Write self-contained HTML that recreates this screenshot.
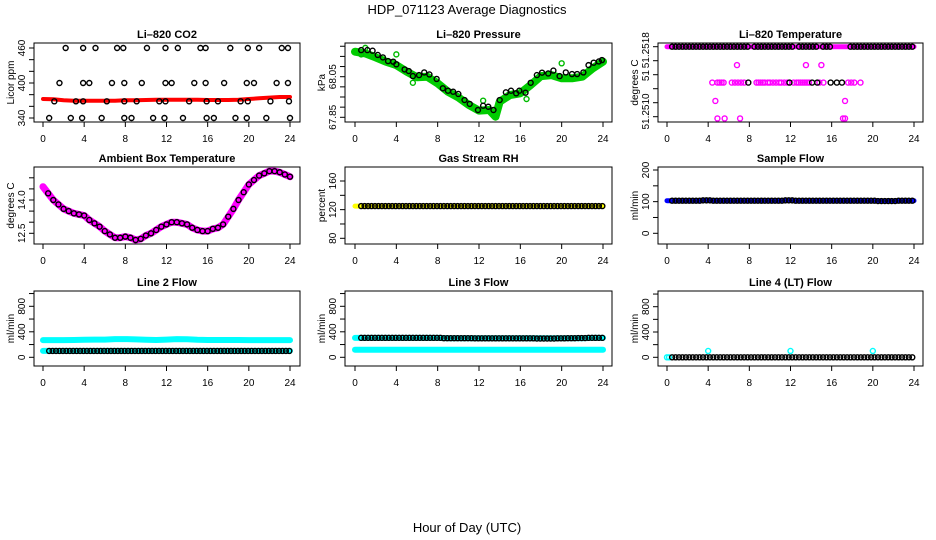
<!DOCTYPE html>
<html><head><meta charset="utf-8">
<style>
html,body{margin:0;padding:0;background:#fff;}
svg{display:block;font-family:"Liberation Sans",Arial,sans-serif;}
</style></head>
<body>
<svg id="chart" width="936" height="540" viewBox="0 0 936 540" xmlns="http://www.w3.org/2000/svg">
<text x="467" y="14" font-size="13" text-anchor="middle">HDP_071123  Average Diagnostics</text>
<text x="467" y="532" font-size="13" text-anchor="middle">Hour of Day (UTC)</text>
</svg>
<script>
// ---------- data ----------
const hourTicks = [0,4,8,12,16,20,24];
const co2RedHours = [0,1,2,3,4,5,6,7,8,9,10,11,12,13,14,15,16,17,18,19,20,21,22,23,24];
const co2RedPpm = [372.6,372,370.3,369.7,369.7,369.7,369.7,369.7,370.3,370.3,370.9,371.4,371.4,371.4,371.4,371.4,370.9,370.9,370.9,371.4,372.6,373.7,374.9,376,376];
const co2BlackHours = [2.2,3.9,5.1,7.2,7.8,10.1,11.9,13.1,15.3,15.8,18.2,19.9,21.0,23.2,23.8, 1.6,3.9,4.5,6.7,7.9,9.6,11.9,12.5,14.7,15.8,17.6,19.8,20.5,22.7,23.8, 1.1,3.2,3.9,6.2,7.9,9.1,11.3,11.9,14.2,15.9,17.0,19.2,19.9,22.1,23.9, 0.6,2.7,3.8,5.7,7.9,8.6,10.7,11.8,13.6,15.9,16.6,18.7,19.8,21.7,24.0];
const co2BlackPpm = [460,460,460,460,460,460,460,460,460,460,460,460,460,460,460, 400,400,400,400,400,400,400,400,400,400,400,400,400,400,400, 368.6,368.6,368.6,368.6,368.6,368.6,368.6,368.6,368.6,368.6,368.6,368.6,368.6,368.6,368.6, 340,340,340,340,340,340,340,340,340,340,340,340,340,340,340];
const presGreenHours = [0,1,2,3,4,5,6,7,8,9,10,11,12,13,13.6,14,15,16,17,18,19,20,21,22,23,24];
const presGreenKpa = [68.173,68.165,68.145,68.124,68.107,68.075,68.047,68.050,68.017,67.976,67.948,67.911,67.883,67.886,67.853,67.927,67.960,67.968,68.009,68.053,68.058,68.042,68.042,68.050,68.091,68.124];
const presOutlierHours = [4.0,20.0,1.0,12.4,16.6,5.6,0.6];
const presOutlierKpa = [68.160,68.116,68.192,67.932,67.940,68.020,68.160];
const presBlackHours = [0.6,1.2,1.7,2.2,2.7,3.2,3.7,4.0,4.8,5.2,5.6,6.2,6.7,7.2,7.9,8.5,9,9.5,10,10.6,11.1,11.9,12.4,12.9,13.4,14.0,14.6,15.1,15.6,15.9,16.5,17,17.6,18.1,18.7,19.2,19.8,20.4,21,21.5,22.1,22.6,23.1,23.6,23.9];
const presBlackKpa = [68.181,68.181,68.178,68.157,68.145,68.127,68.124,68.111,68.086,68.078,68.053,68.058,68.071,68.061,68.039,67.993,67.981,67.976,67.965,67.935,67.916,67.886,67.907,67.902,67.886,67.935,67.973,67.981,67.968,67.981,67.971,68.020,68.058,68.070,68.066,68.080,68.053,68.071,68.063,68.063,68.071,68.107,68.119,68.125,68.132];
const tempTopHours = [0,24];
const tempTopC = [51.2518,51.2518];
const tempMagHours = [4.4,4.9,5.1,5.3,5.5,6.3,6.6,6.9,7.2,7.5,8.7,8.9,9.1,9.3,9.5,9.8,10.0,10.3,10.6,10.9,11.1,11.4,11.7,12.3,12.6,12.8,13.0,13.2,13.4,13.6,13.8,14.8,15.2,17.6,17.9,18.2,18.8, 6.8,13.5,15.0, 4.7,17.3, 4.9,5.6,7.1,17.1,17.3];
const tempMagC = [51.25139,51.25139,51.25139,51.25139,51.25139,51.25139,51.25139,51.25139,51.25139,51.25139,51.25139,51.25139,51.25139,51.25139,51.25139,51.25139,51.25139,51.25139,51.25139,51.25139,51.25139,51.25139,51.25139,51.25139,51.25139,51.25139,51.25139,51.25139,51.25139,51.25139,51.25139,51.25139,51.25139,51.25139,51.25139,51.25139,51.25139, 51.25159,51.25159,51.25159, 51.25118,51.25118, 51.25098,51.25098,51.25098,51.25098,51.25098];
const tempBlackMidHours = [7.9,11.9,14.1,14.6,15.9,16.5,17.0];
const tempBlackMidC = [51.25139,51.25139,51.25139,51.25139,51.25139,51.25139,51.25139];
const tempBlackTopGaps = [[8.1,8.5],[12.2,12.6],[14.5,15.0],[16.0,17.8]];
const ambHours = [0,0.5,1,1.5,2,2.5,3,3.5,4,4.5,5,5.5,6,6.5,7,7.5,8,8.5,9,9.5,10,10.5,11,11.5,12,12.5,13,13.5,14,14.5,15,15.5,16,16.5,17,17.5,18,18.5,19,19.5,20,20.5,21,21.5,22,22.5,23,23.5,24];
const ambC = [14.6,14.3,14.0,13.8,13.6,13.5,13.4,13.35,13.3,13.1,12.95,12.8,12.6,12.45,12.3,12.3,12.35,12.3,12.2,12.25,12.4,12.5,12.65,12.8,12.9,13.0,13.0,12.95,12.9,12.75,12.65,12.6,12.6,12.7,12.75,12.9,13.25,13.6,14.0,14.35,14.7,14.9,15.1,15.2,15.3,15.3,15.25,15.15,15.05];
const rhHourly = [125,125,125,125,125,125,125,125,125,125,125,125,125,125,125,125,125,125,125,125,125,125,125,125,125];
const sampleHourly = [103,103,103,103,104,103,103,103,103,103,103,103,104,103,103,103,103,103,103,103,103,102,102,103,103];
const line2CyanHi = [270,270,270,272,275,278,278,285,285,280,275,272,278,285,283,275,272,272,272,272,270,270,270,270,270];
const line2CyanLo = [100,100,100,100,100,100,100,100,100,100,100,100,100,100,100,100,100,100,100,100,100,100,100,100,100];
const line2Black = [100,100,100,100,100,100,100,100,100,100,100,100,100,100,100,100,100,100,100,100,100,100,100,100,100];
const line3CyanHi = [305,305,305,305,305,305,305,305,305,300,300,300,300,300,300,300,300,300,300,300,300,300,300,305,305];
const line3CyanLo = [120,120,120,120,120,120,120,120,120,120,120,120,120,120,120,120,120,120,120,120,120,120,120,120,120];
const line3Black = [305,305,305,305,305,305,305,305,305,300,300,300,298,298,298,298,298,298,295,295,298,300,302,305,305];
const line4Black = [0,0,0,0,0,0,0,0,0,0,0,0,0,0,0,0,0,0,0,0,0,0,0,0,0];
const line4CyanHours = [0,0.2,4,12,20];
const line4CyanVals = [0,0,100,100,100];

// ---------- drawing ----------
const NS = "http://www.w3.org/2000/svg";
const svg = document.getElementById('chart');
function mk(tag, attrs, parent){ const e=document.createElementNS(NS,tag); for(const k in attrs) e.setAttribute(k,attrs[k]); (parent||svg).appendChild(e); return e; }
const cols = [{l:34,r:300,x0:43,x24:290},{l:345,r:612,x0:355,x24:603},{l:658,r:923,x0:667,x24:914}];
const rows = [{t:43,b:122},{t:167,b:244},{t:291,b:366}];
function panel(ci,ri,title,ylab,yv0,yp0,yv1,yp1,yticks,ylabels,name){
  const c=cols[ci], r=rows[ri];
  const g=mk('g',{});
  
  
  const xs=t=>c.x0+(c.x24-c.x0)*t/24;
  const ys=v=>yp0+(yp1-yp0)*(v-yv0)/(yv1-yv0);
  const tt=mk('text',{x:(c.l+c.r)/2,y:r.t-5,'font-size':11,'font-weight':'bold','text-anchor':'middle'},g);
  tt.textContent=title;
  
  
  const box=mk('rect',{x:c.l,y:r.t,width:c.r-c.l,height:r.b-r.t,fill:'none',stroke:'#000','stroke-width':1},g);
  
  
  const xa=mk('g',{},g);
  
  
  hourTicks.forEach(h=>{ const x=xs(h); mk('line',{x1:x,x2:x,y1:r.b,y2:r.b+5,stroke:'#000'},xa);
    const lt=mk('text',{x:x,y:r.b+20,'font-size':10,'text-anchor':'middle'},xa); lt.textContent=h; });
  const ya=mk('g',{},g);
  
  
  yticks.forEach(v=>{ const y=ys(v); mk('line',{x1:c.l-5,x2:c.l,y1:y,y2:y,stroke:'#000'},ya); });
  ylabels.forEach(([v,s])=>{ const y=ys(v); const lt=mk('text',{x:0,y:0,'font-size':10,'text-anchor':'middle',transform:`translate(${c.l-9},${y}) rotate(-90)`},ya); lt.textContent=s; });
  const yt=mk('text',{x:0,y:0,'font-size':10,'text-anchor':'middle',transform:`translate(${c.l-20},${(r.t+r.b)/2}) rotate(-90)`},g);
  yt.textContent=ylab;
  
  
  return {g,xs,ys};
}
function band(p,hours,vals,color,w,name){
  const pts=hours.map((h,i)=>p.xs(h).toFixed(1)+','+p.ys(vals[i]).toFixed(1)).join(' ');
  const e=mk('polyline',{points:pts,fill:'none',stroke:color,'stroke-width':w,'stroke-linecap':'round','stroke-linejoin':'round'},p.g);
  
  
}
function dots(p,hours,vals,color,name,r){
  const g=mk('g',{},p.g);
  
  
  hours.forEach((h,i)=>{ mk('circle',{cx:p.xs(h),cy:p.ys(vals[i]),r:r||2.5,fill:'none',stroke:color,'stroke-width':1.4},g); });
}
function hourlyDots(p,hourly,color,name,start,gaps){
  const hs=[],vs=[];
  for(let k=0;;k++){ const t=start+k/3; if(t>24.01) break;
    if(gaps && gaps.some(([a,b])=>t>a&&t<b)) continue;
    hs.push(t); vs.push(hourly[Math.round(t)]); }
  dots(p,hs,vs,color,name);
}
const hrs=[...Array(25).keys()];

// Panel 1: CO2
let p=panel(0,0,'Li\u2013820 CO2','Licor ppm',340,118,460,48,[340,360,380,400,420,440,460],[[340,'340'],[400,'400'],[460,'460']],'co2');
band(p,co2RedHours,co2RedPpm,'#ff0000',4,'co2-red-series');
dots(p,co2BlackHours,co2BlackPpm,'#000','co2-black-series');
// Panel 2: Pressure
p=panel(1,0,'Li\u2013820 Pressure','kPa',67.85,117.3,68.05,76.7,[67.85,67.9,67.95,68.0,68.05,68.1,68.15,68.2],[[67.85,'67.85'],[68.05,'68.05']],'pressure');
band(p,presGreenHours,presGreenKpa,'#00cc00',8,'pressure-green-series');
dots(p,presOutlierHours,presOutlierKpa,'#00bb00','pressure-green-outliers');
dots(p,presBlackHours,presBlackKpa,'#000','pressure-black-series');
// Panel 3: Temperature
p=panel(2,0,'Li\u2013820 Temperature','degrees C',51.2510,116.7,51.2518,46.7,[51.2510,51.25116,51.25132,51.25148,51.25164,51.2518],[[51.25176,'51.2518'],[51.25147,'51'],[51.25106,'51.2510']],'temperature');
band(p,tempTopHours,tempTopC,'#ff00ff',5,'temperature-magenta-top');
dots(p,tempMagHours,tempMagC,'#ff00ff','temperature-magenta-series');
hourlyDots(p,hrs.map(()=>51.2518),'#000','temperature-black-top',0.5,tempBlackTopGaps);
dots(p,tempBlackMidHours,tempBlackMidC,'#000','temperature-black-mid');
// Panel 4: Ambient
p=panel(0,1,'Ambient Box Temperature','degrees C',12.5,233.3,14.0,200,[12.5,13.0,13.5,14.0,14.5,15.0],[[12.5,'12.5'],[14.0,'14.0']],'ambient');
band(p,ambHours,ambC,'#ff00ff',7,'ambient-magenta-series');
dots(p,ambHours.slice(1),ambC.slice(1),'#000','ambient-black-series');
// Panel 5: RH
p=panel(1,1,'Gas Stream RH','percent',80,238.3,160,181,[80,100,120,140,160],[[80,'80'],[120,'120'],[160,'160']],'rh');
band(p,hrs,rhHourly,'#ffff00',5,'rh-yellow-series');
hourlyDots(p,rhHourly,'#000','rh-black-series',0.6);
// Panel 6: Sample flow
p=panel(2,1,'Sample Flow','ml/min',0,233.3,200,170,[0,50,100,150,200],[[0,'0'],[100,'100'],[200,'200']],'sample-flow');
band(p,hrs,sampleHourly,'#0000ff',5,'sample-flow-blue-series');
hourlyDots(p,sampleHourly,'#000','sample-flow-black-series',0.5);
// Panel 7-9: Line flows
const flowTicks=[0,200,400,600,800,1000], flowLabels=[[0,'0'],[400,'400'],[800,'800']];
p=panel(0,2,'Line 2 Flow','ml/min',0,357.3,800,306.3,flowTicks,flowLabels,'line2-flow');
band(p,hrs,line2CyanHi,'#00ffff',6,'line2-cyan-high');
band(p,hrs,line2CyanLo,'#00ffff',6,'line2-cyan-low');
hourlyDots(p,line2Black,'#000','line2-black-series',0.6);
p=panel(1,2,'Line 3 Flow','ml/min',0,357.3,800,306.3,flowTicks,flowLabels,'line3-flow');
band(p,hrs,line3CyanHi,'#00ffff',6,'line3-cyan-high');
band(p,hrs,line3CyanLo,'#00ffff',6,'line3-cyan-low');
hourlyDots(p,line3Black,'#000','line3-black-series',0.6);
p=panel(2,2,'Line 4 (LT) Flow','ml/min',0,357.3,800,306.7,flowTicks,flowLabels,'line4-flow');
dots(p,line4CyanHours,line4CyanVals,'#00ffff','line4-cyan-series');
hourlyDots(p,line4Black,'#000','line4-black-series',0.5);
</script>
</body></html>
